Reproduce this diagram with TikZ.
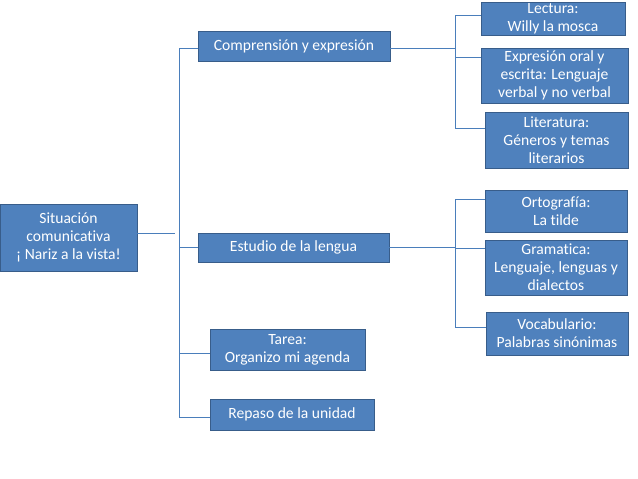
\documentclass[tikz,border=0pt]{standalone}
\usepackage{fontspec}
\setmainfont{Carlito}[Ligatures={NoCommon}]
\usetikzlibrary{positioning,calc}
\definecolor{boxblue}{HTML}{4F81BD}
\definecolor{boxedge}{HTML}{385D8A}
\definecolor{linkblue}{HTML}{4A7EBB}
\tikzset{box/.style={draw=boxedge,fill=boxblue,text=white,align=center,inner sep=1pt,
    line width=0.8pt,font=\fontsize{15.6}{18}\selectfont},
  link/.style={draw=linkblue,line width=0.9pt}}

\begin{document}
\begin{tikzpicture}[x=1pt,y=-1pt]
\useasboundingbox (0,0) rectangle (638,479);
% root and first level
\node[box,minimum width=137pt,minimum height=67pt] (root) at (68.5,237.5) {Situación\\comunicativa\\¡ Nariz a la vista!};
\node[box,minimum width=192pt,minimum height=30pt] (comp) at (294,46) {Comprensión y expresión};
\node[box,minimum width=191pt,minimum height=29pt] (estu) at (293.5,247.5) {Estudio de la lengua};
\node[box,minimum width=155pt,minimum height=41pt] (tarea) at (287.5,349.5) {Tarea:\\Organizo mi agenda};
\node[box,minimum width=164pt,minimum height=31pt] (repaso) at (292,414.5) {Repaso de la unidad};
% second level
\node[box,minimum width=144pt,minimum height=32pt] (lect) at (553,19) {Lectura:\\Willy la mosca};
\node[box,minimum width=147pt,minimum height=55pt] (expr) at (554.5,75.5) {Expresión oral y\\escrita: Lenguaje\\verbal y no verbal};
\node[box,minimum width=143pt,minimum height=56pt] (lit) at (556.5,140) {Literatura:\\Géneros y temas\\literarios};
\node[box,minimum width=142pt,minimum height=42pt] (orto) at (556,211) {Ortografía:\\La tilde};
\node[box,minimum width=142pt,minimum height=55pt] (gram) at (556,267.5) {Gramatica:\\Lenguaje, lenguas y\\dialectos};
\node[box,minimum width=142pt,minimum height=43pt] (voca) at (557,333.5) {Vocabulario:\\Palabras sinónimas};

\coordinate (rootend) at (175,233);
\coordinate (trunk) at (179,0);
\coordinate (fork) at (455,0);
% where the lines meet the boxes
\foreach \n/\dy in {comp/2,estu/0,tarea/3.5,repaso/2.5,lect/-4,expr/-18.5,lit/-12,orto/-12,gram/-19.5,voca/-6.5}
  \coordinate (\n-in) at ($(\n.west)+(0,\dy)$);
\coordinate (comp-out) at ($(comp.east)+(0,2)$);

\draw[link] (root.east |- rootend) -- (rootend);
\draw[link] (trunk |- comp-in) -- (trunk |- repaso-in);
\foreach \n in {comp,estu,tarea,repaso}
  \draw[link] (\n-in) -- (trunk |- \n-in);

\draw[link] (comp-out) -- (fork |- comp-out);
\draw[link] (fork |- lect-in) -- (fork |- lit-in);
\draw[link] (estu.east) -- (fork |- estu.east);
\draw[link] (fork |- orto-in) -- (fork |- voca-in);
\foreach \n in {lect,expr,lit,orto,gram,voca}
  \draw[link] (\n-in) -- (fork |- \n-in);
\end{tikzpicture}
\end{document}
